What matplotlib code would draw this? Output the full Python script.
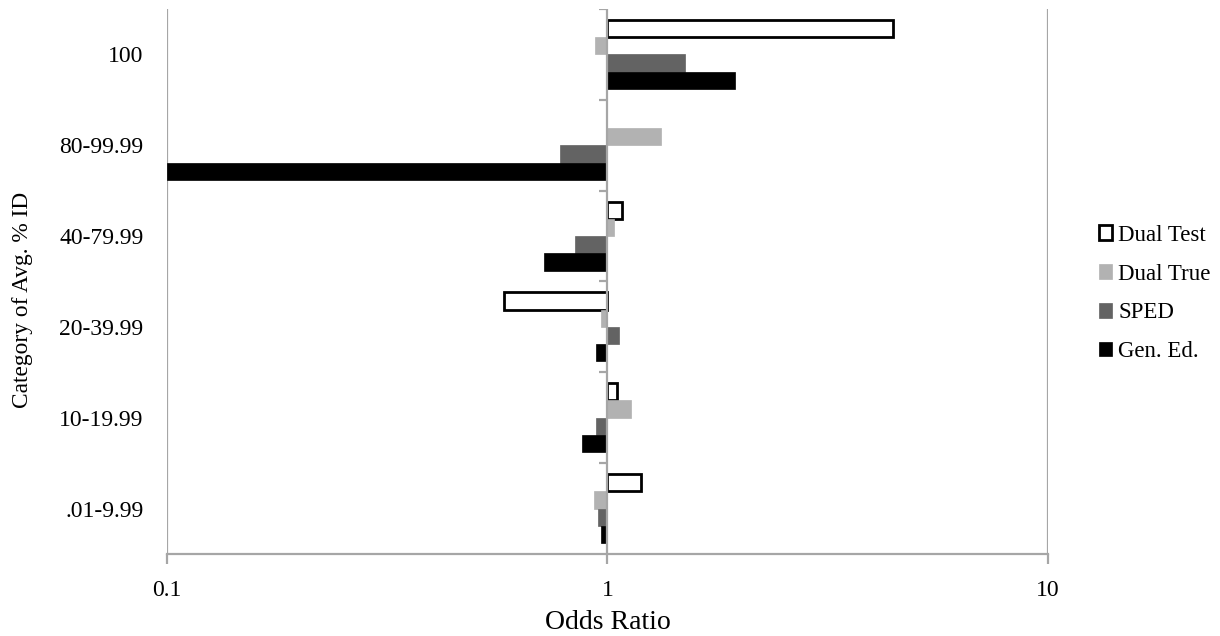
import numpy as np
import matplotlib
matplotlib.use("Agg")
from matplotlib import pyplot as plt

# Chart data (odds ratios)
categories = ["100", "80-99.99", "40-79.99", "20-39.99", "10-19.99", ".01-9.99"]
series_names = ["Dual Test", "Dual True", "SPED", "Gen. Ed."]
dual_test = [4.44, np.nan, 1.076, 0.581, 1.053, 1.191]
dual_true = [0.939, 1.325, 1.036, 0.965, 1.128, 0.930]
sped = [1.50, 0.782, 0.843, 1.061, 0.941, 0.953]
gen_ed = [1.95, 0.10, 0.718, 0.941, 0.875, 0.965]

plt.rcParams['font.family'] = ['Liberation Serif', 'DejaVu Serif']
GRAY = "#a6a6a6"

fig = plt.figure(figsize=(12.2, 6.36), dpi=100)
ax = fig.add_axes([0.1369, 0.129, 0.859 - 0.1369, 0.9858 - 0.129])

series = [dual_test, dual_true, sped, gen_ed]
faces = ["white", "#b2b2b2", "#636363", "black"]
edges = ["black", "#b2b2b2", "#636363", "black"]
widths = [2.0, 0.5, 0.5, 0.5]
bar_h = 0.19
y = np.arange(len(categories))

for i, (vals, name) in enumerate(zip(series, series_names)):
    vals = np.array(vals, dtype=float)
    offset = (i - 1.5) * bar_h
    ax.barh(y + offset, vals - 1, left=1, height=bar_h,
            color=faces[i], edgecolor=edges[i], linewidth=widths[i],
            label=name, zorder=3)

ax.set_xscale("log")
ax.set_xlim(0.1, 10)
ax.set_ylim(len(categories) - 0.5, -0.5)

# Vertical gridlines and the category axis at 1
for xv in [0.1, 1, 10]:
    ax.axvline(xv, color=GRAY, lw=1.6, zorder=1 if xv != 1 else 4)
# small tick marks on the axis at 1 between categories
bounds = np.arange(len(categories) + 1) - 0.5
ax.hlines(bounds[:-1], 10 ** (-8 / 440.0), 1, color=GRAY, lw=1.6, zorder=4)

for s in ["top", "right", "left"]:
    ax.spines[s].set_visible(False)
ax.spines["bottom"].set_color(GRAY)
ax.spines["bottom"].set_linewidth(1.6)

ax.set_xticks([0.1, 1, 10])
ax.set_xticklabels(["0.1", "1", "10"])
ax.xaxis.set_minor_locator(matplotlib.ticker.NullLocator())
ax.tick_params(axis="x", length=7, width=1.6, color=GRAY, labelsize=17,
               pad=12)
ax.set_yticks(y)
ax.set_yticklabels(categories)
ax.tick_params(axis="y", length=0, labelsize=17, pad=17)

ax.set_xlabel("Odds Ratio", fontsize=20, labelpad=6)
ax.set_ylabel("Category of Avg. % ID", fontsize=16.8)
ax.yaxis.set_label_coords(-0.152, 0.466)

ax.legend(loc="center left", bbox_to_anchor=(1.034, 0.478), frameon=False,
          fontsize=16.5, handlelength=0.6, handleheight=0.6,
          handletextpad=0.25, labelspacing=0.78)

fig.savefig("out.png", dpi=100)
